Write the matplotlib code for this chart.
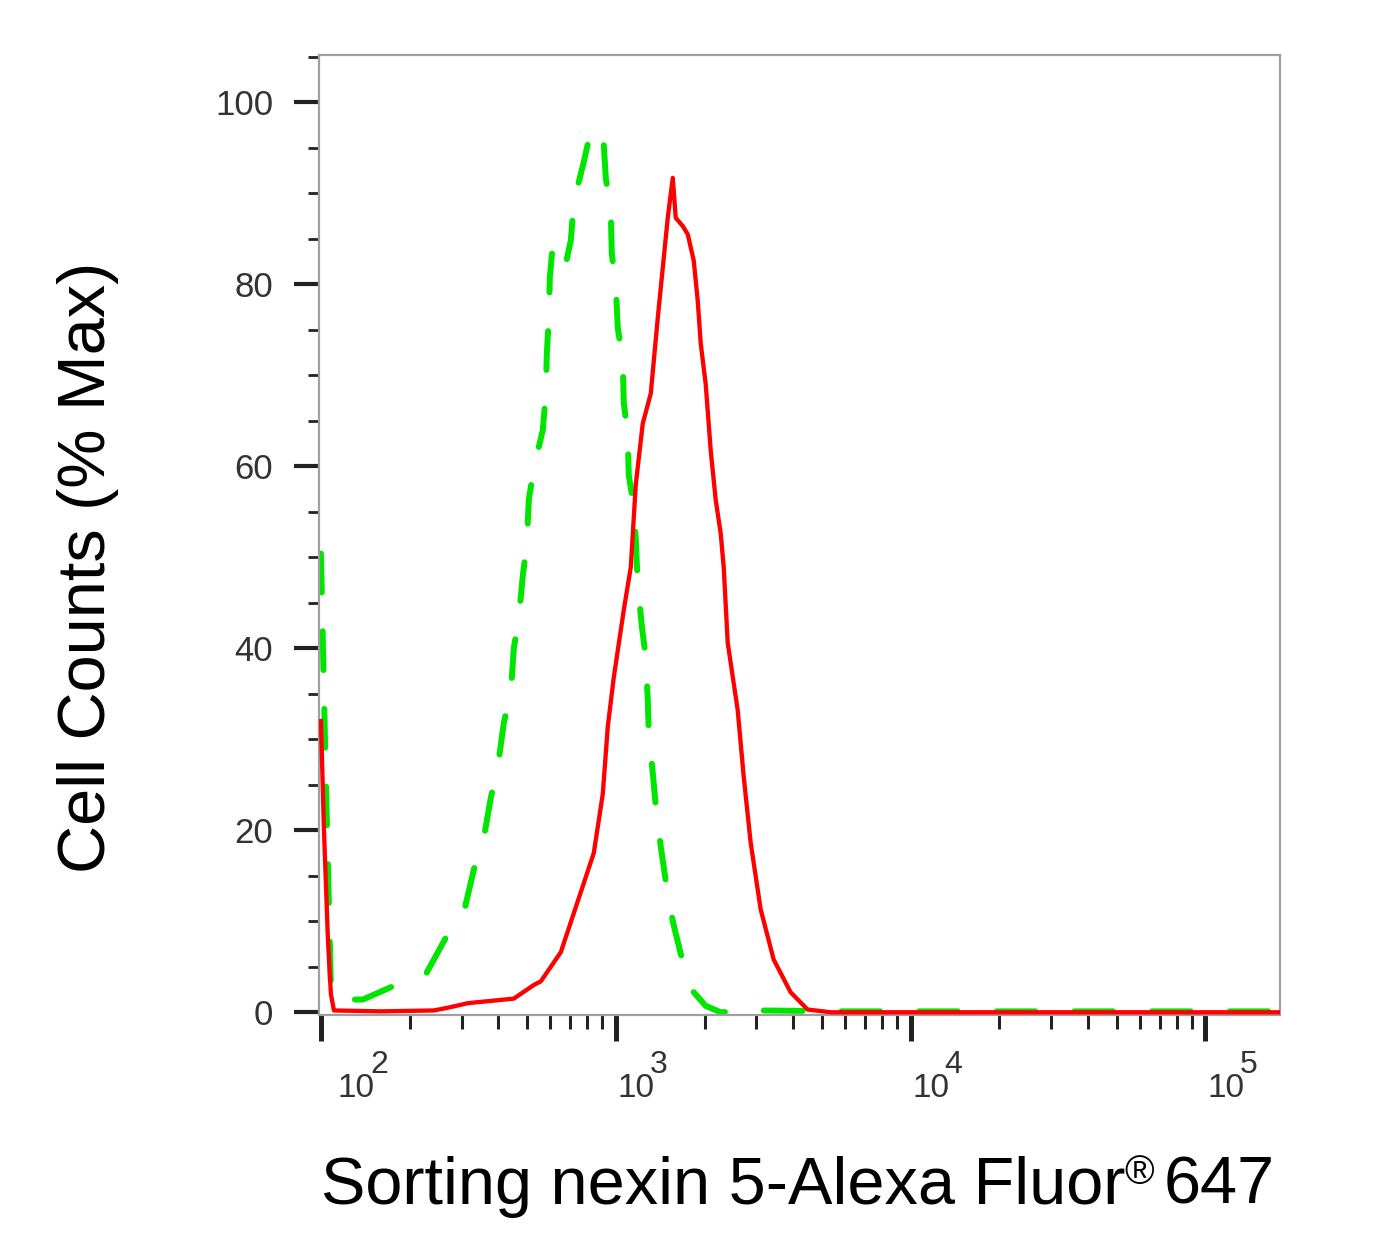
import matplotlib
matplotlib.use("Agg")
import matplotlib.pyplot as plt
from matplotlib.ticker import FixedLocator, NullFormatter
from matplotlib.transforms import offset_copy

# isotype control (green dashed)
control_x = [100, 104, 108.1, 112.4, 138.8, 182.4, 227, 265.3, 305.3, 330.1, 356.9, 377, 398.1,
             417.2, 440.6, 451, 469, 483.9, 499.2, 507, 527.3, 565.7, 579.1, 583.6, 592.8, 597.4,
             611.6, 651, 677, 703.9, 720.5, 772.9, 803.7, 869, 903.6, 925, 961.8, 969.3, 1000,
             1015.7, 1056, 1064.4, 1098, 1106.8, 1142, 1169, 1187, 1225, 1264, 1284, 1294, 1335,
             1367, 1421, 1478, 1561, 1661, 1838, 2019, 2270, 3100, 6000, 179000]
control_y = [50.4, 25, 3, 1.4, 1.4, 3.1, 4.2, 8.2, 11, 15.7, 19.2, 23.6, 27,
             31.8, 35.2, 40, 43.4, 48, 51.5, 56.3, 59.8, 64, 68, 72.4, 76.2, 80.7,
             84.4, 84, 82.3, 84.8, 89.1, 93, 95.4, 96.5, 97.1, 91.7, 88, 83.4, 79.8,
             75.2, 71.6, 67, 63.4, 59, 56.3, 52, 47, 42.5, 39, 34.3, 30.7, 26.3,
             22.6, 18.2, 14.4, 10, 6.4, 2.2, 0.7, 0, 0.2, 0.1, 0.1]

# Sorting nexin 5 stained sample (red)
sample_x = [100, 102.4, 105.6, 108.1, 110.7, 159.7, 241.6, 269.5, 315, 451, 527.3, 556.9, 602.1,
            651, 761, 842.2, 903.6, 939.6, 984.6, 1064.4, 1124.3, 1169, 1234.6, 1314.3, 1388.1,
            1443.3, 1500.7, 1560.6, 1597.3, 1687.1, 1754.3, 1838.3, 1896.6, 1941.5, 2018.9,
            2099.3, 2182.8, 2269.5, 2323.3, 2397, 2591.5, 2715.8, 2868.5, 3101, 3431.5, 3917.7,
            4473, 5355, 179000]
sample_y = [32, 20, 8, 2, 0.2, 0.1, 0.2, 0.5, 1.0, 1.5, 3.0, 3.4, 5,
            6.6, 13.2, 17.5, 24, 31.4, 36.8, 44.2, 48.9, 58, 64.7, 68, 76.3,
            81.8, 87.3, 91.7, 87.3, 86.4, 85.5, 82.6, 78.2, 73.5, 69,
            61.7, 56.3, 52.6, 48.9, 40.6, 33.2, 25.9, 18.6, 11.3, 5.8, 2.2,
            0.3, 0, 0]

y_major = [0, 20, 40, 60, 80, 100]
decades = [2, 3, 4, 5]

plt.rcParams['font.family'] = ['Liberation Sans', 'DejaVu Sans']

fig = plt.figure(figsize=(13.87, 12.42), dpi=100)
ax = fig.add_axes([319 / 1387, 227 / 1242, 961 / 1387, 960 / 1242])

ax.plot(control_x, control_y, color='#00e600', lw=4.3, linestyle=(0, (6.5, 6.5)),
        dash_capstyle='round', zorder=2)
ax.plot(sample_x, sample_y, color='#ff0000', lw=3.1, zorder=3)

ax.set_xscale('log')
ax.set_xlim(98.5, 179000)
ax.set_ylim(-0.3, 105.2)

for s in ax.spines.values():
    s.set_color('#a0a0a0')
    s.set_linewidth(1.6)

ax.yaxis.set_major_locator(FixedLocator(y_major))
ax.yaxis.set_minor_locator(FixedLocator([v for v in range(5, 106, 5) if v % 20]))
ax.set_yticklabels([str(v) for v in y_major], fontsize=25, color='#333333')
ax.xaxis.set_major_locator(FixedLocator([10 ** d for d in decades]))
ax.xaxis.set_minor_locator(FixedLocator([m * 10 ** d for d in [2, 3, 4] for m in range(2, 10)]))
ax.xaxis.set_major_formatter(NullFormatter())
ax.xaxis.set_minor_formatter(NullFormatter())

ax.tick_params(axis='y', which='major', length=18, width=3.0, color='#222222', pad=15)
ax.tick_params(axis='y', which='minor', length=8, width=2.0, color='#222222')
ax.tick_params(axis='x', which='major', length=19, width=3.6, color='#222222')
ax.tick_params(axis='x', which='minor', length=10, width=2.2, color='#222222')

# decade labels: "10" with a nearly full-size raised exponent, set a little right of the tick
for d in decades:
    dx = 17 if d == 2 else 2
    base_tr = offset_copy(ax.get_xaxis_transform(), fig=fig, x=dx, y=-82, units='dots')
    exp_tr = offset_copy(ax.get_xaxis_transform(), fig=fig, x=dx + 32, y=-58, units='dots')
    ax.text(10 ** d, 0, '10', transform=base_tr, ha='left', va='baseline', fontsize=24,
            color='#333333')
    ax.text(10 ** d, 0, str(d), transform=exp_tr, ha='left', va='baseline', fontsize=23,
            color='#333333')

fig.text(88 / 1387, 1 - 567 / 1242, 'Cell Counts (% Max)', rotation=90, ha='center',
         va='center', fontsize=48)

# x label built right to left so the small raised ® sits like in the source
r = fig.canvas.get_renderer()
y_base = 1 - 1204 / 1242
t1 = fig.text(1275 / 1387, y_base, '647', ha='right', va='baseline', fontsize=48)
x1 = t1.get_window_extent(r).x0
t2 = fig.text((x1 - 10) / 1387, 1 - 1184 / 1242, '®', ha='right', va='baseline', fontsize=29)
x2 = t2.get_window_extent(r).x0
fig.text((x2 + 1) / 1387, y_base, 'Sorting nexin 5-Alexa Fluor', ha='right', va='baseline',
         fontsize=48)

fig.savefig('out.png', dpi=100)
